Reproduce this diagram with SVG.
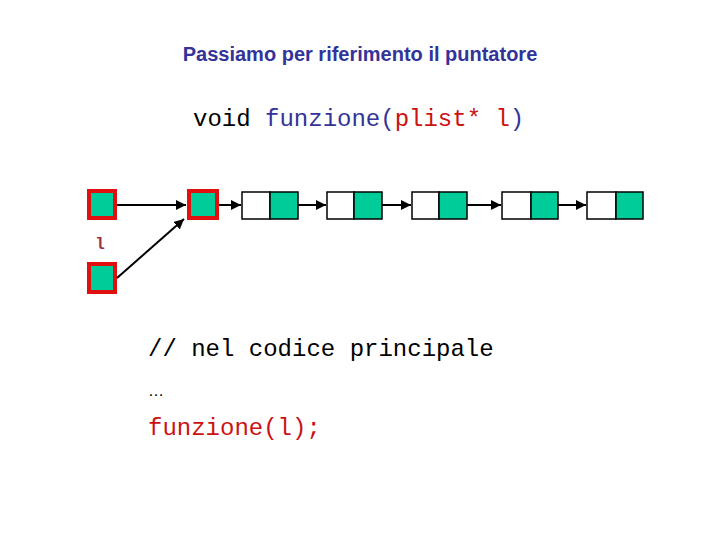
<svg xmlns="http://www.w3.org/2000/svg" width="720" height="540" viewBox="0 0 720 540">
<style>
.title{font-family:"Liberation Sans",Arial,sans-serif;font-weight:bold;font-size:20px;fill:#333399}
.code{font-family:"Liberation Mono","Courier New",monospace;font-size:24px}
.ptr{fill:#00cc99;stroke:#e01010;stroke-width:4}
.cell{stroke:#000;stroke-width:1.5}
.conn{stroke:#000;stroke-width:2;fill:none;marker-end:url(#ah)}
</style>
<defs>
<marker id="ah" viewBox="0 0 10 10" refX="10" refY="5" markerWidth="5" markerHeight="5" orient="auto" markerUnits="strokeWidth">
<path d="M0,0 L10,5 L0,10 z" fill="#000"/>
</marker>
</defs>
<rect width="720" height="540" fill="#fff"/>
<text class="title" x="360" y="61" text-anchor="middle">Passiamo per riferimento il puntatore</text>
<text class="code" x="193" y="126"><tspan fill="#000">void </tspan><tspan fill="#333399">funzione(</tspan><tspan fill="#cc1111">plist* l</tspan><tspan fill="#333399">)</tspan></text>

<g id="ptr-top"><rect class="ptr" x="89" y="191" width="26" height="27"/></g>
<g id="ptr-head"><rect class="ptr" x="189" y="191" width="28" height="27"/></g>
<g id="ptr-l"><rect class="ptr" x="89" y="264" width="26" height="28"/>
<text x="100" y="249" text-anchor="middle" font-family="Liberation Mono,'Courier New',monospace" font-size="16" font-weight="bold" fill="#a03040">l</text></g>

<g id="node1"><rect class="cell" x="242" y="192" width="28" height="27" fill="#fff"/><rect class="cell" x="270" y="192" width="28" height="27" fill="#00cc99"/></g>
<g id="node2"><rect class="cell" x="327" y="192" width="27" height="27" fill="#fff"/><rect class="cell" x="354" y="192" width="28" height="27" fill="#00cc99"/></g>
<g id="node3"><rect class="cell" x="412" y="192" width="27" height="27" fill="#fff"/><rect class="cell" x="439" y="192" width="28" height="27" fill="#00cc99"/></g>
<g id="node4"><rect class="cell" x="502" y="192" width="29" height="27" fill="#fff"/><rect class="cell" x="531" y="192" width="27" height="27" fill="#00cc99"/></g>
<g id="node5"><rect class="cell" x="587" y="192" width="29" height="27" fill="#fff"/><rect class="cell" x="616" y="192" width="27" height="27" fill="#00cc99"/></g>

<g id="connectors">
<line class="conn" x1="117" y1="205" x2="186" y2="205"/>
<line class="conn" x1="117" y1="278" x2="184" y2="219"/>
<line class="conn" x1="219" y1="205" x2="241" y2="205"/>
<line class="conn" x1="298" y1="205" x2="326" y2="205"/>
<line class="conn" x1="382" y1="205" x2="411" y2="205"/>
<line class="conn" x1="467" y1="205" x2="501" y2="205"/>
<line class="conn" x1="558" y1="205" x2="586" y2="205"/>
</g>

<text class="code" x="148" y="356" fill="#000">// nel codice principale</text>
<text x="148" y="396" font-family="Liberation Sans,Arial,sans-serif" font-size="16" fill="#000">…</text>
<text class="code" x="148" y="435" fill="#cc1111">funzione(l);</text>
</svg>
